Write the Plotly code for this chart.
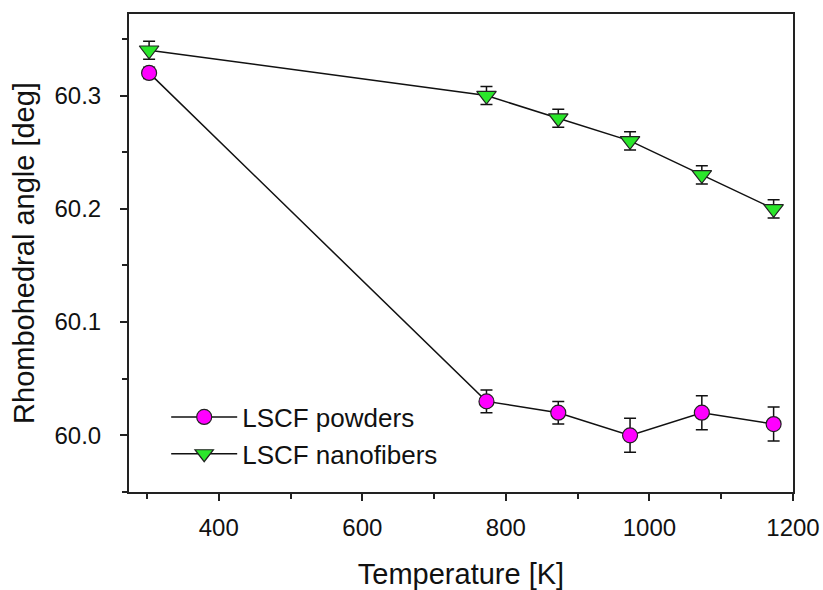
import plotly.graph_objects as go

# Data
temperature_K = [303, 773, 873, 973, 1073, 1173]
powders_angle = [60.32, 60.03, 60.02, 60.00, 60.02, 60.01]
powders_err = [0.005, 0.010, 0.010, 0.015, 0.015, 0.015]
nanofibers_angle = [60.34, 60.30, 60.28, 60.26, 60.23, 60.20]
nanofibers_err = [0.008, 0.008, 0.008, 0.008, 0.008, 0.008]
series_names = ["LSCF powders", "LSCF nanofibers"]
x_title = "Temperature [K]"
y_title = "Rhombohedral angle [deg]"

FONT = "Liberation Sans, Arial, sans-serif"
TXT = "#111111"

fig = go.Figure()
fig.add_trace(go.Scatter(
    x=temperature_K, y=powders_angle, name=series_names[0], mode="lines+markers",
    line=dict(color="#111111", width=1.5),
    marker=dict(symbol="circle", size=15, color="#FF00FF", line=dict(color="#222222", width=1.2)),
    error_y=dict(type="data", array=powders_err, visible=True, color="#111111", thickness=1.5, width=6),
))
fig.add_trace(go.Scatter(
    x=temperature_K, y=nanofibers_angle, name=series_names[1], mode="lines+markers",
    line=dict(color="#111111", width=1.5),
    marker=dict(symbol="triangle-down", size=17, color="#2BE62B", line=dict(color="#222222", width=1.2)),
    error_y=dict(type="data", array=nanofibers_err, visible=True, color="#111111", thickness=1.5, width=6),
))

fig.update_layout(
    width=823, height=590,
    margin=dict(l=129, r=30, t=14, b=98),
    paper_bgcolor="white", plot_bgcolor="white",
    font=dict(family=FONT, color=TXT),
    showlegend=True,
    legend=dict(
        x=0.056, y=0.206, xanchor="left", yanchor="top",
        font=dict(family=FONT, size=26, color=TXT),
        bgcolor="rgba(0,0,0,0)", borderwidth=0,
        itemwidth=66, tracegroupgap=0,
    ),
)
fig.update_xaxes(
    range=[275, 1200], tick0=0, dtick=200, automargin=False,
    showline=True, linecolor="#222222", linewidth=2, mirror=True,
    ticks="outside", ticklen=7, tickwidth=1.5, tickcolor="#222222",
    minor=dict(dtick=100, tick0=0, ticks="outside", ticklen=5, tickwidth=1.5, tickcolor="#222222"),
    showgrid=False, zeroline=False,
    tickfont=dict(family=FONT, size=24, color=TXT),
    ticklabelstandoff=6,
    title=dict(text=x_title, font=dict(family=FONT, size=29, color=TXT), standoff=26),
)
fig.update_yaxes(
    range=[59.95, 60.372], tick0=60.0, dtick=0.1, tickformat=".1f", automargin=False,
    showline=True, linecolor="#222222", linewidth=2, mirror=True,
    ticks="outside", ticklen=7, tickwidth=1.5, tickcolor="#222222",
    minor=dict(dtick=0.05, tick0=60.0, ticks="outside", ticklen=5, tickwidth=1.5, tickcolor="#222222"),
    showgrid=False, zeroline=False,
    tickfont=dict(family=FONT, size=24, color=TXT),
    ticklabelstandoff=14,
    title=dict(text=y_title, font=dict(family=FONT, size=29, color=TXT), standoff=11),
)

fig.write_html(
    "out.html",
    config={"displayModeBar": False},
    post_script="document.body.style.margin='0';document.body.style.overflow='hidden';",
)
